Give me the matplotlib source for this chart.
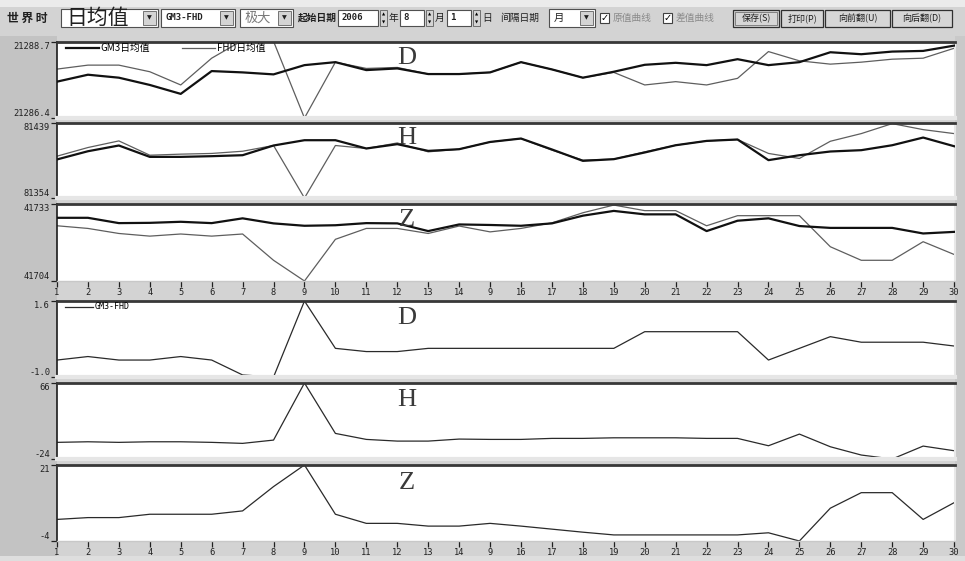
import matplotlib
matplotlib.use('Agg')
import matplotlib.pyplot as plt
from matplotlib.patches import Rectangle
from matplotlib.lines import Line2D
import matplotlib.transforms as mtrans

CJK = ['Noto Sans CJK SC', 'DejaVu Sans']
MONO = 'DejaVu Sans Mono'

# ---- data ----
days = list(range(1, 31))
day_labels = ['1', '2', '3', '4', '5', '6', '7', '8', '9', '10', '11', '12', '13', '14', '9',
              '16', '17', '18', '19', '20', '21', '22', '23', '24', '25', '26', '27', '28', '29', '30']

gm3_d = [21287.50, 21287.71, 21287.62, 21287.40, 21287.13, 21287.82, 21287.78, 21287.72, 21288.00, 21288.09,
         21287.85, 21287.90, 21287.73, 21287.73, 21287.78, 21288.09, 21287.87, 21287.62, 21287.80, 21288.01,
         21288.07, 21288.00, 21288.18, 21288.00, 21288.09, 21288.39, 21288.33, 21288.41, 21288.43, 21288.59]
fhd_d = [21287.88, 21288.00, 21288.00, 21287.80, 21287.40, 21288.21, 21288.75, 21288.72, 21286.40, 21288.09,
         21287.90, 21287.93, 21287.73, 21287.73, 21287.78, 21288.09, 21287.87, 21287.62, 21287.78, 21287.40,
         21287.50, 21287.40, 21287.60, 21288.41, 21288.13, 21288.03, 21288.09, 21288.18, 21288.21, 21288.51]

gm3_h = [81397.7, 81407.0, 81413.5, 81400.6, 81400.6, 81401.4, 81402.5, 81413.5, 81419.5, 81419.5,
         81410.1, 81415.0, 81407.4, 81409.3, 81417.5, 81421.4, 81409.0, 81396.1, 81398.0, 81405.6,
         81413.8, 81418.7, 81420.3, 81396.9, 81402.5, 81406.7, 81408.2, 81413.8, 81422.5, 81412.7]
fhd_h = [81401.4, 81411.2, 81418.7, 81402.5, 81403.7, 81404.5, 81407.0, 81413.5, 81354.0, 81413.5,
         81410.1, 81416.4, 81406.3, 81409.3, 81417.5, 81421.4, 81408.2, 81396.9, 81398.0, 81406.3,
         81413.8, 81418.7, 81420.3, 81404.5, 81398.8, 81418.3, 81427.0, 81438.3, 81431.5, 81427.0]

gm3_z = [41727.8, 41727.8, 41725.8, 41725.9, 41726.3, 41725.8, 41727.6, 41725.7, 41724.8, 41725.0,
         41725.8, 41725.7, 41722.8, 41725.3, 41725.1, 41724.8, 41725.7, 41728.6, 41730.4, 41729.1,
         41729.1, 41722.8, 41726.7, 41727.6, 41724.7, 41724.0, 41724.0, 41724.0, 41721.9, 41722.5]
fhd_z = [41724.8, 41723.8, 41721.9, 41720.9, 41721.7, 41720.9, 41721.7, 41711.8, 41704.0, 41719.7,
         41723.8, 41723.8, 41721.9, 41724.7, 41722.5, 41723.8, 41725.9, 41729.7, 41732.6, 41730.5,
         41730.5, 41724.8, 41728.6, 41728.6, 41728.6, 41716.9, 41711.8, 41711.8, 41718.8, 41714.0]

diff_d = [-0.42, -0.30, -0.42, -0.42, -0.30, -0.42, -0.93, -1.0, 1.6, -0.02,
          -0.13, -0.13, -0.02, -0.02, -0.02, -0.02, -0.02, -0.02, -0.02, 0.55,
          0.55, 0.55, 0.55, -0.42, -0.02, 0.38, 0.19, 0.19, 0.19, 0.06]
diff_h = [-4.3, -3.6, -4.3, -3.6, -3.6, -4.3, -5.5, -1.6, 66, 6.3,
          -0.8, -2.8, -2.8, -0.4, -0.8, -0.8, 0.4, 0.4, 1.1, 1.1,
          1.1, 0.4, 0.4, -8.3, 5.5, -9.5, -19.3, -24, -8.7, -14.2]
diff_z = [3.1, 3.7, 3.7, 4.8, 4.8, 4.8, 5.9, 13.9, 21, 4.8,
          1.8, 1.8, 0.9, 0.9, 1.8, 0.9, -0.1, -1.1, -2.0, -2.0,
          -2.0, -2.0, -2.0, -1.3, -4, 6.8, 11.9, 11.9, 3.1, 8.6]

raw_limits = [(21286.4, 21288.7, '21286.4', '21288.7'),
              (81354, 81439, '81354', '81439'),
              (41704, 41733, '41704', '41733')]
diff_limits = [(-1.0, 1.6, '-1.0', '1.6'),
               (-24, 66, '-24', '66'),
               (-4, 21, '-4', '21')]
comp_names = ['D', 'H', 'Z']

# ---- figure in pixel terms ----
W, H = 965, 561
fig = plt.figure(figsize=(W / 100, H / 100), dpi=100, facecolor='#d3d3d3')


def fx(x):
    return x / W


def fy(y):
    return 1 - y / H


def rect(x0, y0, x1, y1, fc, ec='none', lw=0, z=-1):
    r = Rectangle((fx(x0), fy(y1)), (x1 - x0) / W, (y1 - y0) / H, transform=fig.transFigure,
                  facecolor=fc, edgecolor=ec, linewidth=lw, zorder=z)
    fig.add_artist(r)


def ftext(x, y, s, **kw):
    kw.setdefault('va', 'center')
    kw.setdefault('family', CJK)
    fig.text(fx(x), fy(y), s, **kw)


# background pieces
rect(0, 0, W, 7, '#ebebeb', z=-3)
rect(0, 36, 57, H, '#c3c3c3', z=-2)
rect(955, 36, W, H, '#c9c9c9', z=-2)
rect(0, 556, W, H, '#dedede', z=-2)

# ---- toolbar ----
ftext(7, 18, '世 界 时', fontsize=8.5, weight='bold', color='#202020')


def combo(x0, x1, label, size, color='#202020', family=CJK, weight='normal'):
    rect(x0, 9, x1, 27, 'white', '#505050', 0.8, z=1)
    rect(x1 - 15, 11, x1 - 2, 25, '#d4d4d4', '#606060', 0.6, z=2)
    ftext(x1 - 8.5, 18, '▼', fontsize=4.5, ha='center', family='DejaVu Sans', color='#202020')
    ftext(x0 + 5, 18, label, fontsize=size, color=color, family=family, weight=weight)


combo(61, 158, '日均值', 15)
combo(161, 235, 'GM3-FHD', 6.5, family=MONO, weight='bold')
combo(240, 293, '极大', 9.5, color='#7a7a7a')
ftext(298, 18, '起始日期', fontsize=7, weight='bold', color='#202020')


def spin_box(x0, x1, label):
    rect(x0, 10, x1, 26, 'white', '#505050', 0.8, z=1)
    ftext(x0 + 3, 18, label, fontsize=6.5, family=MONO, weight='bold', color='#202020')
    rect(x1 + 2, 10, x1 + 9, 26, '#d4d4d4', '#606060', 0.6, z=1)
    ftext(x1 + 5.5, 14, '▲', fontsize=3, ha='center', family='DejaVu Sans')
    ftext(x1 + 5.5, 22, '▼', fontsize=3, ha='center', family='DejaVu Sans')


spin_box(338, 378, '2006')
ftext(389, 18, '年', fontsize=7, color='#202020')
spin_box(400, 424, '8')
ftext(435, 18, '月', fontsize=7, color='#202020')
spin_box(447, 471, '1')
ftext(482, 18, '日', fontsize=7, color='#202020')
ftext(500, 18, '间隔日期', fontsize=7, color='#202020')
combo(549, 595, '月', 7.5)

for cx, lab in [(600, '原值曲线'), (663, '差值曲线')]:
    rect(cx, 13, cx + 9, 23, 'white', '#404040', 0.8, z=1)
    ftext(cx + 4.5, 18, '✓', fontsize=7, ha='center', family='DejaVu Sans', weight='bold')
    ftext(cx + 13, 18, lab, fontsize=7, color='#8a8a8a')

for bx0, bx1, lab in [(733, 779, '保存(S)'), (781, 823, '打印(P)'),
                      (825, 890, '向前翻(U)'), (892, 952, '向后翻(D)')]:
    rect(bx0, 10, bx1, 27, '#d6d6d6', '#303030', 0.9, z=1)
    ftext((bx0 + bx1) / 2, 18.5, lab, fontsize=6.5, ha='center', color='#202020')
rect(735, 12, 777, 25, 'none', '#606060', 0.5, z=2)

# ---- panels ----
panel_px = [(42, 118), (123, 198), (204, 281), (301, 377), (383, 459), (465, 541)]
letter_y = [0.79, 0.80, 0.79, 0.78, 0.78, 0.76]

axes = []
for i, (top, bot) in enumerate(panel_px):
    ax = fig.add_axes([fx(57), fy(bot), (955 - 57) / W, (bot - top) / H])
    ax.set_facecolor('white')
    ax.set_xlim(1, 30.03)
    ax.spines['top'].set_color('#383838')
    ax.spines['top'].set_linewidth(2.0)
    ax.spines['left'].set_color('#1c1c1c')
    ax.spines['left'].set_linewidth(1.2)
    ax.spines['right'].set_color('#e8e8e8')
    ax.spines['right'].set_linewidth(1.5)
    ax.spines['bottom'].set_color('#e6e6e6')
    ax.spines['bottom'].set_linewidth(3)
    axes.append(ax)

for i in range(3):
    ax = axes[i]
    lo, hi, lo_s, hi_s = raw_limits[i]
    gm3 = [gm3_d, gm3_h, gm3_z][i]
    fhd = [fhd_d, fhd_h, fhd_z][i]
    ax.plot(days, fhd, color='#5e5e5e', lw=0.9, zorder=2)
    ax.plot(days, gm3, color='#111111', lw=1.6, zorder=3)
    ax.set_ylim(lo, hi)
    ax.set_yticks([lo, hi], [lo_s, hi_s])

for i in range(3):
    ax = axes[i + 3]
    lo, hi, lo_s, hi_s = diff_limits[i]
    d = [diff_d, diff_h, diff_z][i]
    ax.plot(days, d, color='#2a2a2a', lw=0.9, zorder=2)
    ax.set_ylim(lo, hi)
    ax.set_yticks([lo, hi], [lo_s, hi_s])

for i, ax in enumerate(axes):
    ax.tick_params(axis='y', length=4, width=0.9, pad=1, labelsize=6.3,
                   labelfontfamily=MONO, colors='#202020')
    labs = ax.get_yticklabels()
    labs[0].set_va('bottom')
    labs[1].set_va('top')
    tr = mtrans.blended_transform_factory(ax.transData, ax.transAxes)
    ax.text(12.3, letter_y[i], comp_names[i % 3], transform=tr, family='Liberation Serif',
            fontsize=19, color='#3a3a3a', ha='center', va='center', zorder=4)
    if i in (2, 5):
        ax.set_xticks(days, day_labels)
        ax.tick_params(axis='x', length=4, width=0.9, pad=1, labelsize=6.3,
                       labelfontfamily=MONO, colors='#202020')
        ax.spines['bottom'].set_color('#c8c8c8')
        ax.spines['bottom'].set_linewidth(1)
    else:
        ax.set_xticks([])

# legends
axes[0].legend([Line2D([], [], color='#111111', lw=1.6), Line2D([], [], color='#5e5e5e', lw=0.9)],
               ['GM3日均值', 'FHD日均值'], ncol=2, loc='upper left', bbox_to_anchor=(0.0, 1.1),
               frameon=False, handlelength=3.4, handletextpad=0.2, columnspacing=3.3,
               prop={'family': CJK, 'size': 7})
axes[3].legend([Line2D([], [], color='#2a2a2a', lw=0.9)], ['GM3-FHD'], loc='upper left',
               bbox_to_anchor=(0.0, 1.08), frameon=False, handlelength=3.4, handletextpad=0.2,
               prop={'family': MONO, 'size': 6})

fig.savefig('out.png', dpi=100, facecolor=fig.get_facecolor())
